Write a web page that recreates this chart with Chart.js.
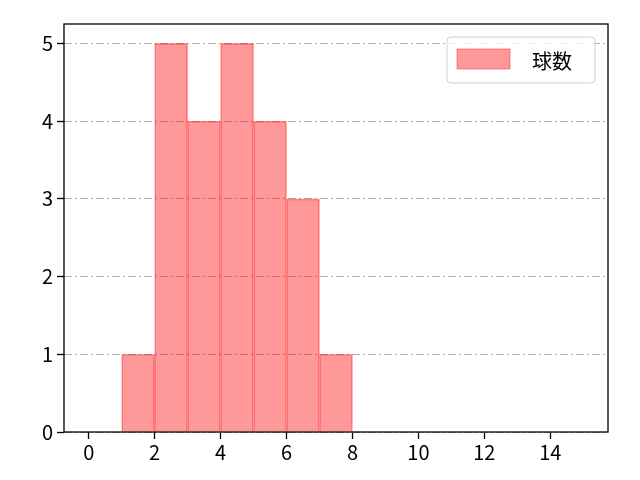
<!DOCTYPE html>
<html>
<head>
<meta charset="utf-8">
<script src="https://cdn.jsdelivr.net/npm/chart.js@4/dist/chart.umd.min.js"></script>
<style>
  html, body { margin: 0; padding: 0; background: #fff; }
  #wrap { width: 640px; height: 480px; }
</style>
</head>
<body>
<div id="wrap"><canvas id="chart" width="640" height="480"></canvas></div>
<script>
// histogram bins (left edges) and counts
const binStarts = [1, 2, 3, 4, 5, 6, 7];
const counts = [1, 5, 4, 5, 4, 3, 1];
const seriesLabel = '球数';
const xTicks = [0, 2, 4, 6, 8, 10, 12, 14];
const yTicks = [0, 1, 2, 3, 4, 5];

const FONT = '"Noto Sans CJK JP", "Noto Sans", sans-serif';

// box around the plot area, like matplotlib spines
const framePlugin = {
    id: 'frame',
    afterDraw(chart) {
        const a = chart.chartArea;
        const ctx = chart.ctx;
        ctx.save();
        ctx.strokeStyle = '#000';
        ctx.lineWidth = 1.3;
        ctx.strokeRect(a.left, a.top, a.right - a.left, a.bottom - a.top);
        ctx.restore();
    }
};

// legend box in the upper right corner of the plot
const legendPlugin = {
    id: 'innerLegend',
    afterDraw(chart) {
        const ds = chart.data.datasets[0];
        const ctx = chart.ctx;
        const a = chart.chartArea;
        const x = a.right - 13, y = a.top + 13;
        const w = 148, h = 46;
        ctx.save();
        ctx.beginPath();
        ctx.roundRect(x - w, y, w, h, 4);
        ctx.fillStyle = 'rgba(255,255,255,0.8)';
        ctx.fill();
        ctx.strokeStyle = '#d0d0d0';
        ctx.lineWidth = 1;
        ctx.stroke();
        ctx.fillStyle = ds.backgroundColor;
        ctx.fillRect(x - w + 10, y + 12, 53, 20);
        ctx.strokeStyle = ds.borderColor;
        ctx.strokeRect(x - w + 10, y + 12, 53, 20);
        ctx.fillStyle = '#000';
        ctx.font = '20px ' + FONT;
        ctx.textBaseline = 'middle';
        ctx.fillText(ds.label, x - w + 85, y + h / 2 + 1);
        ctx.restore();
    }
};

const ctx = document.getElementById('chart').getContext('2d');
new Chart(ctx, {
    type: 'bar',
    data: {
        datasets: [{
            label: seriesLabel,
            data: binStarts.map((b, i) => ({ x: b + 0.5, y: counts[i] })),
            backgroundColor: 'rgba(255, 0, 0, 0.4)',
            borderColor: 'rgba(255, 0, 0, 0.4)',
            borderWidth: 1,
            barPercentage: 1,
            categoryPercentage: 1
        }]
    },
    options: {
        responsive: false,
        animation: false,
        layout: { padding: { left: 0, right: 32, top: 24, bottom: 0 } },
        plugins: {
            legend: { display: false },
            tooltip: { enabled: false }
        },
        scales: {
            x: {
                type: 'linear',
                offset: false,
                min: -0.75,
                max: 15.75,
                afterBuildTicks(scale) {
                    scale.ticks = xTicks.map(v => ({ value: v }));
                },
                afterFit(scale) { scale.height = 48; },
                ticks: {
                    color: '#000',
                    font: { size: 20, family: FONT },
                    padding: 1,
                    maxRotation: 0
                },
                grid: {
                    offset: false,
                    drawOnChartArea: false,
                    tickLength: 7,
                    tickColor: '#000',
                    tickWidth: 1.3
                },
                border: { display: false }
            },
            y: {
                min: 0,
                max: 5.25,
                afterBuildTicks(scale) {
                    scale.ticks = yTicks.map(v => ({ value: v }));
                },
                afterFit(scale) { scale.width = 64; },
                ticks: {
                    color: '#000',
                    font: { size: 20, family: FONT },
                    padding: 4
                },
                grid: {
                    color: '#b0b0b0',
                    lineWidth: 1,
                    tickLength: 7,
                    tickColor: '#000',
                    tickWidth: 1.3,
                    tickBorderDash: []
                },
                border: { display: false, dash: [8, 3, 2, 3] }
            }
        }
    },
    plugins: [framePlugin, legendPlugin]
});
</script>
</body>
</html>
